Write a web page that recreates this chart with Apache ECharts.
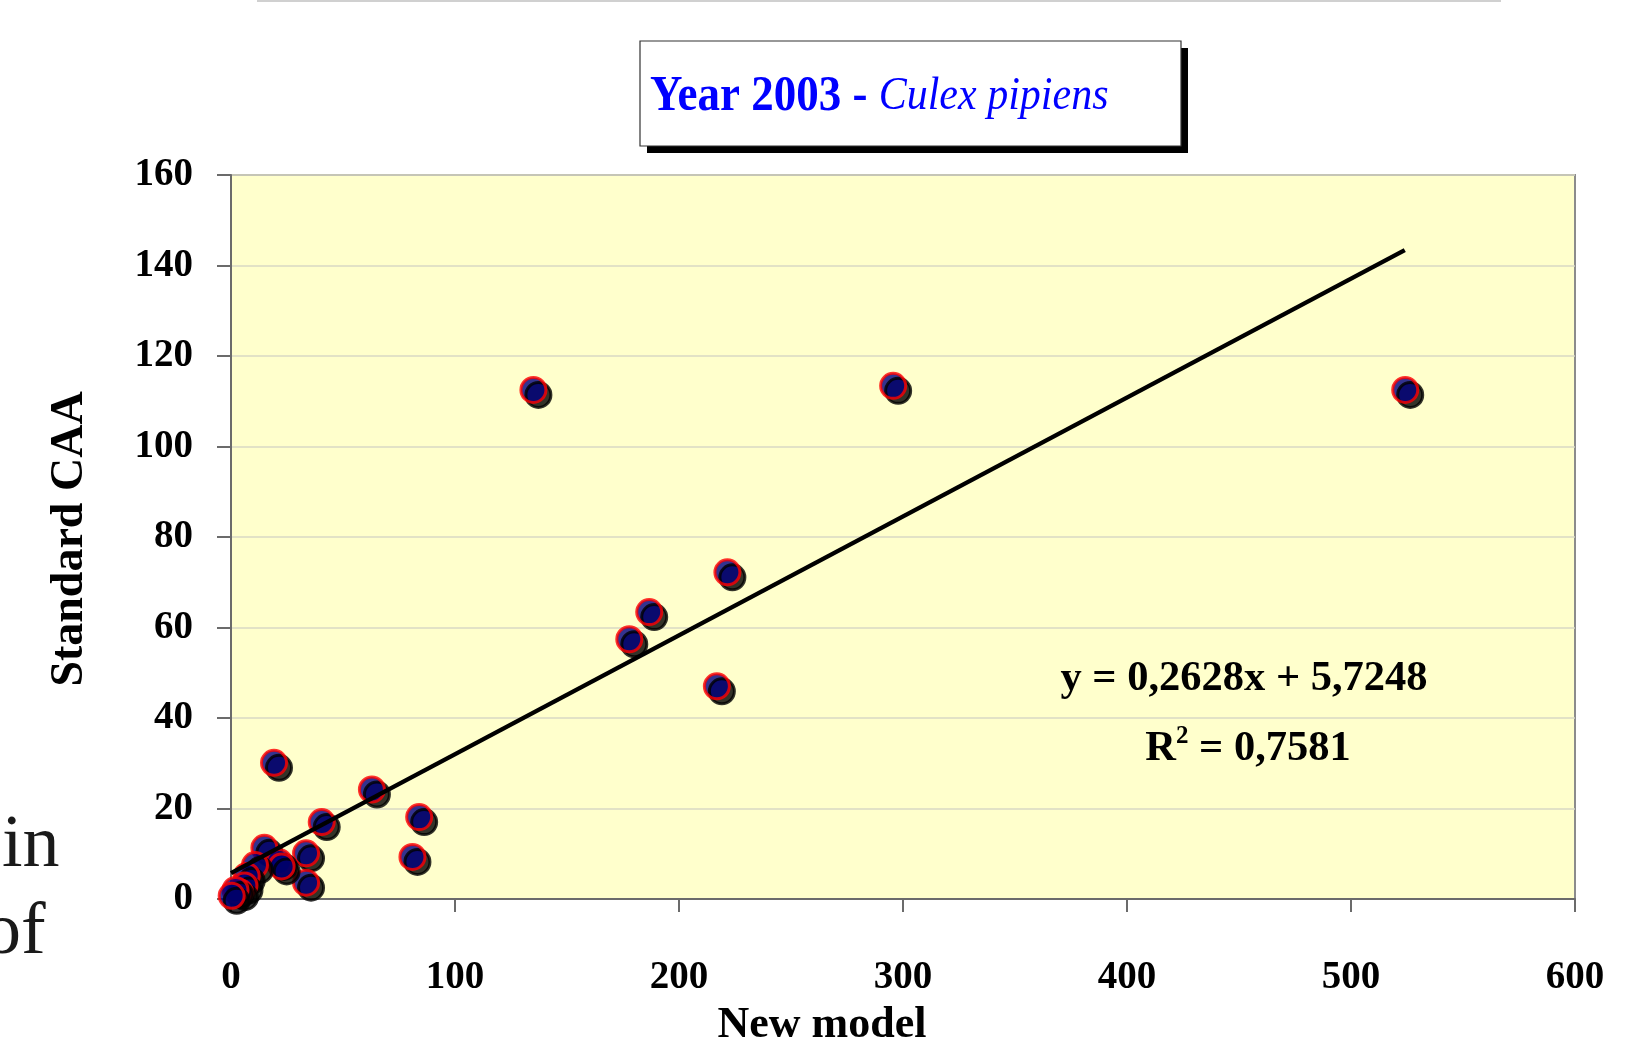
<!DOCTYPE html>
<html>
<head>
<meta charset="utf-8">
<script src="https://cdn.jsdelivr.net/npm/echarts@6/dist/echarts.min.js"></script>
<style>html,body{margin:0;padding:0;background:#fff;}#c{width:1634px;height:1044px;}</style>
</head>
<body>
<div id="c"></div>
<script>
// Data
const newModel = [135.0, 295.6, 524.2, 221.6, 186.7, 177.8, 216.9, 19.2, 62.9, 40.5, 84.0, 81.0, 33.5, 33.5, 14.9, 21.4, 22.6, 10.7, 7.0, 6.0, 4.0, 2.0, 0.3];
const standardCAA = [112.5, 113.4, 112.5, 72.2, 63.4, 57.4, 47.0, 30.1, 24.2, 17.0, 18.1, 9.3, 10.1, 3.6, 11.3, 8.2, 7.2, 7.5, 5.1, 3.0, 1.5, 2.0, 0.7];
const trendX = [0, 524];
const trendY = [5.72, 143.4];
const xTicks = [0, 100, 200, 300, 400, 500, 600];
const yTicks = [0, 20, 40, 60, 80, 100, 120, 140, 160];
const titleBold = 'Year 2003 - ';
const titleItalic = 'Culex pipiens';
const eqText = 'y = 0,2628x + 5,7248';
const r2Value = ' = 0,7581';
const xName = 'New model';
const yName = 'Standard CAA';

const serif = '"Liberation Serif", "Times New Roman", serif';
const scatterData = newModel.map((x, i) => [x, standardCAA[i]]);
const trendData = trendX.map((x, i) => [x, trendY[i]]);

const chart = echarts.init(document.getElementById('c'), null, {renderer: 'canvas'});
chart.setOption({
  animation: false,
  backgroundColor: '#ffffff',
  grid: {
    left: 231, right: 59, top: 175, bottom: 145,
    show: true, backgroundColor: '#FFFFCC', borderColor: '#8c8c8c', borderWidth: 2
  },
  xAxis: {
    type: 'value', min: xTicks[0], max: xTicks[xTicks.length - 1], interval: 100,
    axisLine: {show: true, onZero: false, lineStyle: {color: '#6b6b6b', width: 2}},
    axisTick: {show: true, inside: false, length: 13, lineStyle: {color: '#6b6b6b', width: 2}},
    axisLabel: {margin: 59, color: '#000', fontFamily: serif, fontWeight: 'bold', fontSize: 39},
    splitLine: {show: false}
  },
  yAxis: {
    type: 'value', min: yTicks[0], max: yTicks[yTicks.length - 1], interval: 20,
    axisLine: {show: true, onZero: false, lineStyle: {color: '#6b6b6b', width: 2}},
    axisTick: {show: true, inside: false, length: 14, lineStyle: {color: '#6b6b6b', width: 2}},
    axisLabel: {margin: 38, color: '#000', fontFamily: serif, fontWeight: 'bold', fontSize: 39, padding: [14, 0, 0, 0]},
    splitLine: {show: true, lineStyle: {color: '#d8d8c4', width: 1.5}}
  },
  series: [
    {
      type: 'scatter', data: scatterData, symbol: 'circle', symbolSize: 25, z: 2,
      itemStyle: {color: '#000080', borderColor: '#ff0000', borderWidth: 3,
        shadowColor: '#000', shadowBlur: 0, shadowOffsetX: 5, shadowOffsetY: 5}
    },
    {
      type: 'line', data: trendData, symbol: 'none', z: 3, silent: true,
      lineStyle: {color: '#000', width: 4.5}
    }
  ],
  graphic: [
    {type: 'line', shape: {x1: 257, y1: 1, x2: 1501, y2: 1}, style: {stroke: '#d0d0d0', lineWidth: 2}},
    {type: 'text', x: 2, y: 884, style: {text: 'in', font: '74px ' + serif, fill: '#1a1a1a', textVerticalAlign: 'bottom'}},
    {type: 'text', x: -16, y: 971, style: {text: 'of', font: '74px ' + serif, fill: '#1a1a1a', textVerticalAlign: 'bottom'}},
    {type: 'rect', shape: {x: 647, y: 48, width: 541, height: 105}, style: {fill: '#000', lineWidth: 0}},
    {type: 'rect', shape: {x: 640, y: 41, width: 541, height: 105}, style: {fill: '#fff', stroke: '#333', lineWidth: 1.2}},
    {type: 'text', x: 650, y: 97, scaleY: 1.12, style: {
      text: '{b|' + titleBold + '}{i|' + titleItalic + '}',
      textVerticalAlign: 'middle',
      rich: {
        b: {fontFamily: serif, fontWeight: 'bold', fontSize: 45, fill: '#0000ff', color: '#0000ff'},
        i: {fontFamily: serif, fontStyle: 'italic', fontSize: 42, fill: '#0000ff', color: '#0000ff'}
      }
    }},
    {type: 'text', x: 1244, y: 679, style: {text: eqText, font: 'bold 42.5px ' + serif, fill: '#000', textAlign: 'center', textVerticalAlign: 'middle'}},
    {type: 'text', x: 1248, y: 749, style: {
      text: '{a|R}{s|2}{a|' + r2Value + '}',
      textAlign: 'center', textVerticalAlign: 'middle',
      rich: {
        a: {fontFamily: serif, fontWeight: 'bold', fontSize: 42.5, color: '#000'},
        s: {fontFamily: serif, fontWeight: 'bold', fontSize: 25, color: '#000', verticalAlign: 'top', padding: [0, 0, 24, 0]}
      }
    }},
    {type: 'text', x: 822, y: 1026, style: {text: xName, font: 'bold 44px ' + serif, fill: '#000', textAlign: 'center', textVerticalAlign: 'middle'}},
    {type: 'text', x: 70, y: 539, rotation: Math.PI / 2, style: {text: yName, font: 'bold 46px ' + serif, fill: '#000', textAlign: 'center', textVerticalAlign: 'middle'}}
  ]
});
</script>
</body>
</html>
